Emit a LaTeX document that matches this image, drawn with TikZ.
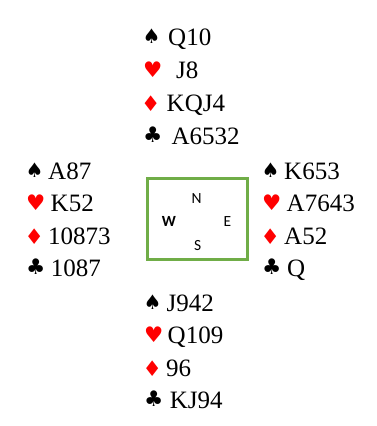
\documentclass[tikz,border=0pt]{standalone}
\usepackage{fontspec}
\setmainfont{Liberation Serif}
\newfontfamily\symfont{DejaVu Sans}
\newfontfamily\compfont{Carlito}
\definecolor{suitred}{HTML}{FF0000}
\definecolor{boxgreen}{HTML}{70AD47}
\begin{document}
\begin{tikzpicture}[x=1pt,y=-1pt,
  cardtxt/.style={anchor=base west, inner sep=0pt, font=\fontsize{25}{29}\selectfont},
  suitsym/.style={anchor=base west, inner sep=0pt, font=\symfont\fontsize{21.5}{24}\selectfont},
  blacksuit/.style={suitsym, text=black},
  spadesym/.style={suitsym, text=black, font=\symfont\fontsize{20}{22}\selectfont},
  redsuit/.style={suitsym, text=suitred},
  compassbox/.style={draw=boxgreen, line width=2.3pt, minimum width=100pt, minimum height=81pt, inner sep=0pt},
  dir/.style={inner sep=0pt, font=\compfont\fontsize{15.5}{18}\selectfont}]
\useasboundingbox (0,0) rectangle (376,426);
% North
\node[spadesym] (ns) at (142.5,43.5) {♠};
\node[cardtxt] (nst) at (168,45.5) {Q10};
\node[redsuit] (nh) at (143,77) {♥};
\node[cardtxt] (nht) at (176,78.5) {J8};
\node[redsuit] (nd) at (141,111.5) {♦};
\node[cardtxt] (ndt) at (166.5,111.5) {KQJ4};
\node[blacksuit] (nc) at (143,142.5) {♣};
\node[cardtxt] (nct) at (171.3,144.3) {A6532};
% West
\node[spadesym] (ws) at (25.5,177) {♠};
\node[cardtxt] (wst) at (48,179) {A87};
\node[redsuit] (wh) at (26,210) {♥};
\node[cardtxt] (wht) at (50.5,211.5) {K52};
\node[redsuit] (wd) at (24.5,244) {♦};
\node[cardtxt] (wdt) at (48,244) {10873};
\node[blacksuit] (wc) at (26,274.5) {♣};
\node[cardtxt] (wct) at (50.6,276) {1087};
% East
\node[spadesym] (es) at (261.5,177) {♠};
\node[cardtxt] (est) at (284,179) {K653};
\node[redsuit] (eh) at (262,210) {♥};
\node[cardtxt] (eht) at (286.5,211.5) {A7643};
\node[redsuit] (ed) at (260.5,244) {♦};
\node[cardtxt] (edt) at (284,244) {A52};
\node[blacksuit] (ec) at (262,274.5) {♣};
\node[cardtxt] (ect) at (287,276) {Q};
% South
\node[spadesym] (ss) at (143.5,309) {♠};
\node[cardtxt] (sst) at (166.5,311) {J942};
\node[redsuit] (sh) at (144,342) {♥};
\node[cardtxt] (sht) at (167.5,343.5) {Q109};
\node[redsuit] (sd) at (142.5,376) {♦};
\node[cardtxt] (sdt) at (166,376) {96};
\node[blacksuit] (sc) at (144,406.5) {♣};
\node[cardtxt] (sct) at (169.7,408.5) {KJ94};
% Compass
\node[compassbox] (box) at (197.5,219) {};
\node[dir] (cn) at (196.7,198.3) {N};
\node[dir, font=\compfont\bfseries\fontsize{15.5}{18}\selectfont] (cw) at (169,221.7) {W};
\node[dir] (ce) at (227.3,221.7) {E};
\node[dir] (cs) at (197.7,246) {S};
\end{tikzpicture}
\end{document}
